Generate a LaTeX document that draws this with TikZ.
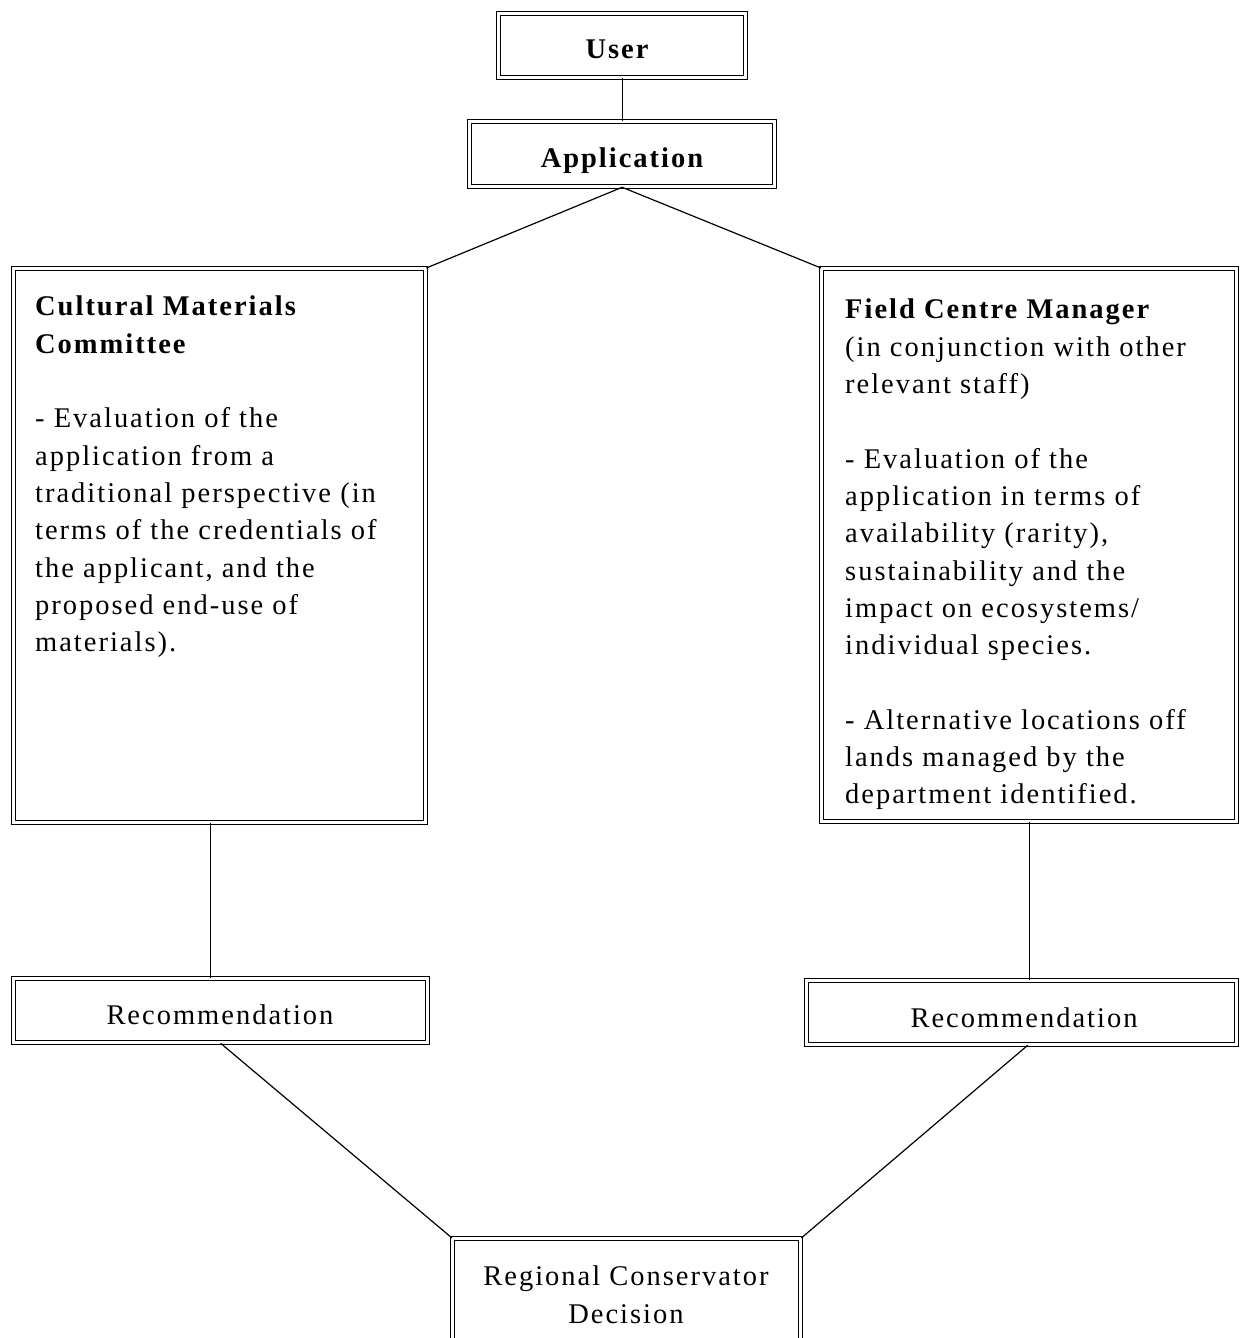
\documentclass[tikz,border=0pt]{standalone}
\usepackage{fontspec}
\setmainfont{Liberation Serif}[LetterSpace=7]
\begin{document}
\begin{tikzpicture}[x=1pt,y=-1pt,
  dbox/.style={draw, double, double distance=2.4pt, line width=1.3pt, inner sep=0pt, anchor=north west},
  conn/.style={line width=1.2pt},
  lbl/.style={inner sep=0pt, anchor=base, font=\fontsize{28.5}{37.3}\selectfont},
  body/.style={inner sep=0pt, anchor=north west, align=left, font=\fontsize{28.5}{37.3}\selectfont}]
\useasboundingbox (0,0) rectangle (1239,1338);
\clip (0,0) rectangle (1239,1338);
% boxes
\node[dbox, minimum width=247pt, minimum height=64pt] (user) at (498,13) {};
\node[dbox, minimum width=305pt, minimum height=65pt] (app) at (469,121) {};
\node[dbox, minimum width=412pt, minimum height=554pt] (cmc) at (13,268) {};
\node[dbox, minimum width=415pt, minimum height=553pt] (fcm) at (821,268) {};
\node[dbox, minimum width=414pt, minimum height=64pt] (lrec) at (13,978) {};
\node[dbox, minimum width=430pt, minimum height=64pt] (rrec) at (806,980) {};
\node[dbox, minimum width=348pt, minimum height=140pt] (dec) at (452,1238) {};
% labels
\node[lbl] (usert) at (617,59) {\bfseries User};
\node[lbl] (appt) at (622,167) {\bfseries Application};
\node[body] (cmct) at (35,296) {\bfseries Cultural Materials\\\bfseries Committee\\[37.3pt]
- Evaluation of the\\
application from a\\
traditional perspective (in\\
terms of the credentials of\\
the applicant, and the\\
proposed end-use of\\
materials).};
\node[body] (fcmt) at (845,299) {\bfseries Field Centre Manager\\
(in conjunction with other\\
relevant staff)\\[37.3pt]
- Evaluation of the\\
application in terms of\\
availability (rarity),\\
sustainability and the\\
impact on ecosystems/\\
individual species.\\[37.3pt]
- Alternative locations off\\
lands managed by the\\
department identified.};
\node[lbl] (lrect) at (220,1024) {Recommendation};
\node[lbl] (rrect) at (1024,1027) {Recommendation};
\node[lbl, align=center, anchor=north] (dect) at (626,1266) {Regional Conservator\\Decision};
% connectors
\draw[conn] (user.south) -- (app.north);
\draw[conn] (app.south) -- (cmc.north east);
\draw[conn] (app.south) -- (fcm.north west);
\draw[conn] ([xshift=-9pt]cmc.south) -- ([xshift=-9pt]cmc.south |- lrec.north);
\draw[conn] (fcm.south) -- (fcm.south |- rrec.north);
\draw[conn] (lrec.south) -- (dec.north west);
\draw[conn] ([xshift=6pt]rrec.south) -- (dec.north east);
\end{tikzpicture}
\end{document}
